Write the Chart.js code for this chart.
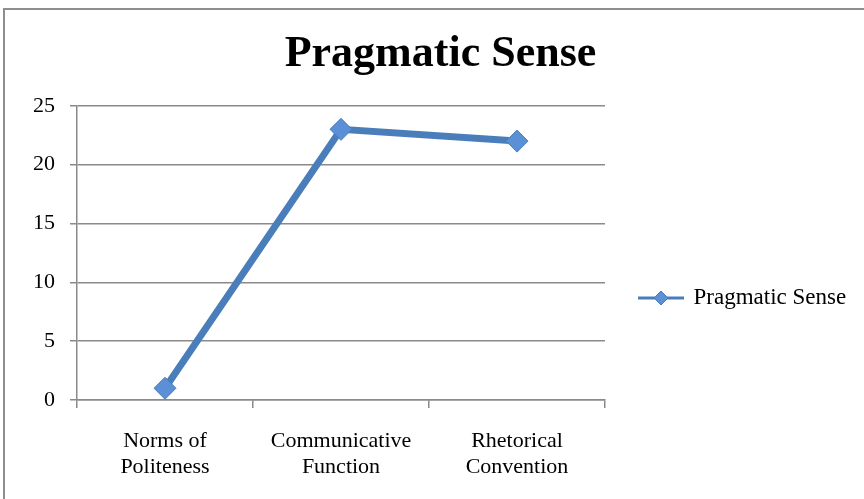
<!DOCTYPE html>
<html>
<head>
<meta charset="utf-8">
<script src="https://cdn.jsdelivr.net/npm/chart.js@4/dist/chart.umd.min.js"></script>
<style>
  html, body { margin: 0; padding: 0; background: #fff; }
  #wrap { position: relative; width: 864px; height: 499px; overflow: hidden; }
  #frame { position: absolute; left: 3px; top: 8px; width: 900px; height: 600px;
           border: 2px solid #8e8e8e; box-sizing: border-box; pointer-events: none; }
  canvas { position: absolute; left: 0; top: 0; }
</style>
</head>
<body>
<div id="wrap">
  <canvas id="c" width="864" height="499"></canvas>
  <div id="frame"></div>
</div>
<script>
const chartTitle = 'Pragmatic Sense';
const categories = [['Norms of', 'Politeness'], ['Communicative', 'Function'], ['Rhetorical', 'Convention']];
const seriesName = 'Pragmatic Sense';
const seriesValues = [1, 23, 22];
const yTicks = [0, 5, 10, 15, 20, 25];

const LINE = '#4a7ebb';
const FILL = '#5b8fd6';
const GRID = '#8a8a8a';
const SERIF = '"Liberation Serif", "DejaVu Serif", serif';

// legend symbol: line with diamond
const sym = document.createElement('canvas');
sym.width = 46; sym.height = 16;
(function () {
  const g = sym.getContext('2d');
  g.strokeStyle = LINE; g.lineWidth = 3;
  g.beginPath(); g.moveTo(0, 8); g.lineTo(46, 8); g.stroke();
  g.beginPath();
  g.moveTo(23, 1); g.lineTo(30, 8); g.lineTo(23, 15); g.lineTo(16, 8); g.closePath();
  g.fillStyle = FILL; g.fill();
  g.lineWidth = 1; g.strokeStyle = LINE; g.stroke();
})();

const chart = new Chart(document.getElementById('c'), {
  type: 'line',
  data: {
    labels: categories,
    datasets: [{
      label: seriesName,
      data: seriesValues,
      borderColor: LINE,
      borderWidth: 7,
      tension: 0,
      pointStyle: 'rectRot',
      pointRadius: 11,
      pointBackgroundColor: FILL,
      pointBorderColor: LINE,
      pointBorderWidth: 1
    }]
  },
  options: {
    responsive: false,
    animation: false,
    devicePixelRatio: 1,
    layout: { padding: { top: 0, left: 17, right: 0, bottom: 19 } },
    plugins: {
      title: {
        display: true,
        text: chartTitle,
        color: '#000',
        font: { family: SERIF, size: 44, weight: 'bold', lineHeight: 1.2 },
        padding: { top: 28, bottom: 25 }
      },
      legend: {
        display: true,
        position: 'right',
        align: 'center',
        title: { display: true, text: ' ', font: { size: 10, lineHeight: 1.2 }, padding: { top: 52, bottom: 52 } },
        labels: {
          usePointStyle: true,
          pointStyleWidth: 42,
          padding: 35,
          color: '#000',
          font: { family: SERIF, size: 23 },
          generateLabels: (c) => c.data.datasets.map((ds, i) => ({
            text: ds.label,
            pointStyle: sym,
            fillStyle: FILL,
            strokeStyle: LINE,
            lineWidth: 0,
            hidden: false,
            datasetIndex: i,
            fontColor: '#000'
          }))
        }
      },
      tooltip: { enabled: false }
    },
    scales: {
      x: {
        offset: true,
        afterFit: (s) => { s.height = 80; s.paddingLeft = 0; s.paddingRight = 0; },
        grid: { offset: true, drawOnChartArea: false, drawTicks: true, tickLength: 8, color: GRID, lineWidth: 1.5 },
        border: { display: true, color: GRID, width: 1.5 },
        ticks: { color: '#000', font: { family: SERIF, size: 22, lineHeight: 1.2 }, padding: 20, maxRotation: 0, autoSkip: false }
      },
      y: {
        min: yTicks[0],
        max: yTicks[yTicks.length - 1],
        afterBuildTicks: (s) => { s.ticks = yTicks.map(v => ({ value: v })); },
        afterFit: (s) => { s.width = 60; s.paddingTop = 0; s.paddingBottom = 0; },
        grid: { color: GRID, lineWidth: 1.5, tickLength: 7, drawTicks: true },
        border: { display: true, color: GRID, width: 1.5 },
        ticks: { color: '#000', font: { family: SERIF, size: 22 }, padding: 15 }
      }
    }
  }
});

// give the right-hand legend the same width as in the reference (gap to plot + text)
const baseFit = chart.legend.fit;
chart.legend.fit = function () { baseFit.call(this); this.width = 259; };
chart.update();
</script>
</body>
</html>
